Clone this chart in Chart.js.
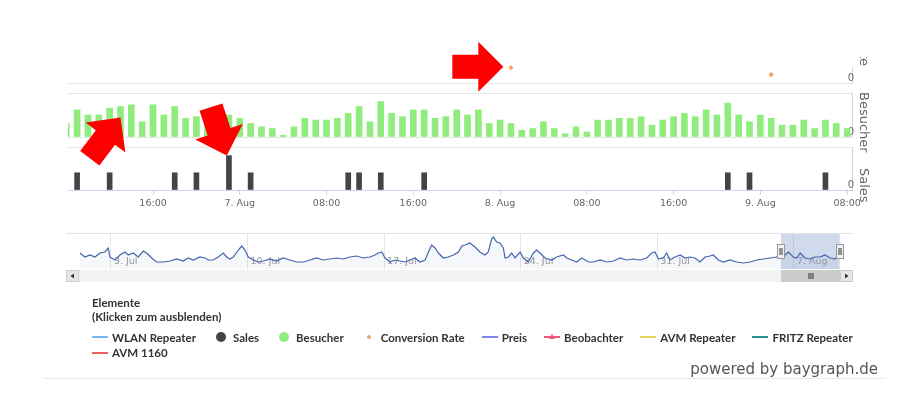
<!DOCTYPE html>
<html lang="de">
<head>
<meta charset="utf-8">
<title>Besucher / Sales</title>
<script src="https://cdn.jsdelivr.net/npm/chart.js@4.4.1/dist/chart.umd.min.js"></script>
<style>
  html, body { margin: 0; padding: 0; background: #fff; }
  #page { position: relative; width: 904px; height: 399px; overflow: hidden; }
  #page canvas { position: absolute; left: 0; top: 0; }
  #legend { position: absolute; left: 92px; top: 296px; width: 790px; font: bold 11.5px Lato, sans-serif; color: #333; }
  #legend .head { line-height: 14px; }
  #legendItems { margin-top: 5.5px; display: flex; flex-wrap: wrap; }
  .item { display: inline-flex; align-items: center; height: 15.5px; margin-right: 17px; white-space: nowrap; }
  .item svg { width: 16px; height: 12px; margin-right: 4px; }
  #powered { position: absolute; right: 26px; top: 360px; font: 15px "DejaVu Sans", sans-serif; line-height: 18px; color: #555; }
  #footLine { position: absolute; left: 43px; top: 378px; width: 843px; height: 1px; background: #e9e9e9; }
</style>
</head>
<body>
<div id="page">
  <canvas id="convChart" width="904" height="300"></canvas>
  <canvas id="visChart" width="904" height="300"></canvas>
  <canvas id="salesChart" width="904" height="300"></canvas>
  <canvas id="navChart" width="904" height="300"></canvas>
  <div id="legend">
    <div class="head">Elemente<br>(Klicken zum ausblenden)</div>
    <div id="legendItems"></div>
  </div>
  <div id="footLine"></div>
  <div id="powered">powered by baygraph.de</div>
</div>
<script>
// --- 1. Data (hours counted from 06.08. 00:00) ---
const visitorHours = [8, 9, 10, 11, 12, 13, 14, 15, 16, 17,
  18, 19, 20, 21, 22, 23, 24, 25, 26, 27,
  28, 29, 30, 31, 32, 33, 34, 35, 36, 37,
  38, 39, 40, 41, 42, 43, 44, 45, 46, 47,
  48, 49, 50, 51, 52, 53, 54, 55, 56, 57,
  58, 59, 60, 61, 62, 63, 64, 65, 66, 67,
  68, 69, 70, 71, 72, 73, 74, 75, 76, 77,
  78, 79, 80];
const visitors = [8, 16, 13, 13, 17, 18, 19, 9, 19, 13,
  18, 11, 12, 11, 12, 13, 11, 8, 6, 5,
  1, 6, 11, 10, 10, 11, 14, 18, 9, 21,
  14, 12, 16, 16, 11, 12, 16, 13, 16, 8,
  10, 8, 4, 5, 9, 5, 2, 6, 3, 10,
  10, 11, 11, 12, 7, 10, 12, 14, 12, 16,
  13, 20, 13, 9, 13, 11, 7, 7, 10, 5,
  10, 8, 5];

const saleHours = [9, 12, 18, 20, 23, 25, 34, 35, 37, 41, 69, 71, 78];
const sales = [1, 1, 1, 1, 2, 1, 1, 1, 1, 1, 1, 1, 1];

const convHours = [49, 73];
const convRates = [9.6, 5.2];

const xTickHours = [16, 24, 32, 40, 48, 56, 64, 72, 80];
const xTickLabels = ['16:00', '7. Aug', '08:00', '16:00', '8. Aug', '08:00', '16:00', '9. Aug', '08:00'];

// navigator: days counted from 01.07. 00:00
const navDays = [0.41, 0.67, 0.92, 1.18, 1.44, 1.69, 1.86, 1.95, 2.21, 2.46, 2.72, 2.89, 3.14, 3.40, 3.66, 3.83,
  4.09, 4.34, 4.68, 5.02, 5.37, 5.71, 5.96, 6.22, 6.56, 6.82, 6.99, 7.24, 7.50, 7.76, 7.93, 8.10, 8.27,
  8.53, 8.70, 8.87, 9.04, 9.30, 9.55, 9.81, 10.15, 10.49, 10.83, 11.17, 11.52, 11.86, 12.20, 12.54, 12.88,
  13.22, 13.57, 13.91, 14.25, 14.59, 14.93, 15.28, 15.53, 15.70, 15.88, 16.05, 16.30, 16.56, 16.81, 17.07,
  17.33, 17.58, 17.84, 18.10, 18.27, 18.44, 18.61, 18.78, 19.04, 19.29, 19.55, 19.81, 19.98, 20.15, 20.40,
  20.66, 20.91, 21.17, 21.34, 21.51, 21.60, 21.77, 21.94, 22.11, 22.20, 22.37, 22.54, 22.71, 22.97, 23.14,
  23.39, 23.65, 23.82, 23.99, 24.25, 24.59, 24.84, 25.19, 25.36, 25.61, 25.87, 26.13, 26.47, 26.72, 27.07,
  27.41, 27.75, 28.09, 28.43, 28.77, 29.12, 29.46, 29.71, 29.88, 30.06, 30.31, 30.48, 30.65, 30.91, 31.17,
  31.42, 31.68, 31.93, 32.19, 32.45, 32.70, 32.87, 33.13, 33.39, 33.73, 34.07, 34.41, 34.75, 35.10, 35.44,
  35.78, 36.12, 36.29, 36.55, 36.72, 36.97, 37.14, 37.32, 37.57, 37.83, 38.08, 38.34, 38.60, 38.86, 39.11, 39.28];
const navValues = [16, 12, 14, 12, 16, 17, 21, 12, 9, 14, 17, 14, 16, 12, 18, 16,
  11, 7, 7, 8, 10, 8, 11, 9, 12, 11, 9, 9, 12, 16, 12, 10, 12,
  19, 23, 19, 12, 9, 7, 8, 10, 8, 11, 9, 7, 7, 9, 11, 9,
  10, 11, 10, 12, 13, 11, 12, 14, 16, 17, 11, 7, 9, 8, 7,
  9, 11, 7, 9, 17, 24, 21, 16, 11, 12, 14, 17, 23, 24, 26,
  22, 17, 14, 17, 30, 32, 27, 26, 21, 11, 12, 16, 11, 17, 11,
  7, 16, 19, 16, 11, 9, 12, 14, 11, 9, 7, 11, 7, 7, 9,
  7, 8, 11, 9, 10, 9, 11, 16, 17, 10, 11, 16, 9, 12, 14,
  11, 12, 11, 7, 12, 13, 14, 9, 7, 9, 7, 6, 7, 9, 10,
  11, 12, 16, 14, 17, 12, 11, 16, 11, 10, 12, 12, 14, 11, 10, 13];
const navTickDays = [2, 9, 16, 23, 30, 37];
const navTickLabels = ['3. Jul', '10. Jul', '17. Jul', '24. Jul', '31. Jul', '7. Aug'];

const legendNames = ['WLAN Repeater', 'Sales', 'Besucher', 'Conversion Rate', 'Preis', 'Beobachter', 'AVM Repeater', 'FRITZ Repeater', 'AVM 1160'];
const legendColors = ['#7cb5ec', '#434348', '#90ed7d', '#f7a35c', '#8085e9', '#f15c80', '#e4d354', '#2b908f', '#f45b5b'];
const legendSymbols = ['line', 'circle', 'circle', 'diamond', 'line', 'lineMarker', 'line', 'line', 'line'];

// --- 2. Shared settings ---
const hourMin = 8.16, hourMax = 80.45;      // visible window of the main chart
const dayOffset = 36;                       // 06.08. counted from 01.07.
const visMax = 26, salesMax = 2.5, convMax = 10;

Chart.defaults.font.family = '"DejaVu Sans", sans-serif';
Chart.defaults.font.size = 9.5;
Chart.defaults.color = '#666';
Chart.defaults.animation = false;
Chart.defaults.responsive = false;
Chart.defaults.events = [];
Chart.defaults.plugins.legend.display = false;
Chart.defaults.plugins.tooltip.enabled = false;

function hourAxis(show) {
  return {
    type: 'linear', min: hourMin, max: hourMax, offset: false, display: show,
    afterBuildTicks: s => { s.ticks = xTickHours.map(v => ({ value: v })); },
    afterFit: s => { if (show) s.height = 25; },
    grid: { drawOnChartArea: false, drawTicks: true, tickLength: 5, tickColor: '#ccd6eb', offset: false },
    border: { display: true, color: '#ccd6eb' },
    ticks: { autoSkip: false, maxRotation: 0, padding: 3, callback: (v, i) => xTickLabels[i] }
  };
}

function paneAxis(max, tickValues, zeroColor) {
  return {
    type: 'linear', position: 'right', min: 0, max: max,
    afterBuildTicks: s => { s.ticks = tickValues.map(v => ({ value: v })); },
    afterFit: s => { s.width = 52; },
    grid: { drawTicks: false, color: c => (c.tick && c.tick.value === 0 ? zeroColor : '#e6e6e6') },
    border: { display: true, color: '#ccd6eb' },
    ticks: { mirror: true, padding: 2, labelOffset: -5, font: { size: 10 }, callback: v => (v === 0 ? '0' : '') }
  };
}

// --- 3. Pane titles + red arrows (drawn on top) ---
const axisTitles = [
  { text: 'Conversion Rate', at: 66, align: 'right' },
  { text: 'Besucher', at: 92, align: 'left' },
  { text: 'Sales', at: 168, align: 'left' }
];
const arrowTips = [
  { pane: 'vis', hour: 13.0, value: 11.5, angle: -53 },
  { pane: 'sales', hour: 22.8, value: 2.0, angle: 72 },
  { pane: 'conv', hour: 48.3, value: 10.2, angle: 0 }
];

let convChart, visChart;

const overlayPlugin = {
  id: 'overlay',
  afterDraw(chart) {
    const ctx = chart.ctx;
    // rotated axis titles
    ctx.save();
    ctx.beginPath();
    ctx.rect(0, 57, 904, 243);
    ctx.clip();
    ctx.font = '13px "DejaVu Sans", sans-serif';
    ctx.fillStyle = '#666';
    ctx.textBaseline = 'middle';
    axisTitles.forEach(t => {
      ctx.save();
      ctx.translate(863, t.at);
      ctx.rotate(Math.PI / 2);
      ctx.textAlign = t.align;
      ctx.fillText(t.text, 0, 0);
      ctx.restore();
    });
    ctx.restore();

    // arrows
    const panes = { conv: convChart, vis: visChart, sales: chart };
    ctx.save();
    ctx.fillStyle = '#ff0000';
    arrowTips.forEach(a => {
      const c = panes[a.pane];
      const x = c.scales.x.getPixelForValue(a.hour);
      const y = c.scales.y.getPixelForValue(a.value);
      ctx.save();
      ctx.translate(x, y);
      ctx.rotate(a.angle * Math.PI / 180);
      ctx.beginPath();
      ctx.moveTo(0, 0);
      ctx.lineTo(-25, -25);
      ctx.lineTo(-25, -12);
      ctx.lineTo(-51, -12);
      ctx.lineTo(-51, 12);
      ctx.lineTo(-25, 12);
      ctx.lineTo(-25, 25);
      ctx.closePath();
      ctx.fill();
      ctx.restore();
    });
    ctx.restore();
  }
};

// --- 4. Panes ---
convChart = new Chart(document.getElementById('convChart'), {
  type: 'scatter',
  data: {
    datasets: [{
      data: convHours.map((h, i) => ({ x: h, y: convRates[i] })),
      pointStyle: 'rectRot', pointRadius: 2.6, borderWidth: 0,
      backgroundColor: '#f7a35c', clip: false
    }]
  },
  options: {
    layout: { padding: { left: 68, right: 0, top: 67, bottom: 217 } },
    scales: { x: hourAxis(false), y: paneAxis(convMax, [0], '#e6e6e6') }
  }
});

visChart = new Chart(document.getElementById('visChart'), {
  type: 'bar',
  data: {
    datasets: [{
      data: visitorHours.map((h, i) => ({ x: h, y: visitors[i] })),
      backgroundColor: '#90ed7d', borderWidth: 0, barThickness: 6
    }]
  },
  options: {
    layout: { padding: { left: 68, right: 0, top: 93, bottom: 163 } },
    scales: { x: hourAxis(false), y: paneAxis(visMax, [0, visMax], '#e6e6e6') }
  }
});

new Chart(document.getElementById('salesChart'), {
  type: 'bar',
  data: {
    datasets: [{
      data: saleHours.map((h, i) => ({ x: h, y: sales[i] })),
      backgroundColor: '#434348', borderWidth: 0, barThickness: 5
    }]
  },
  options: {
    layout: { padding: { left: 68, right: 0, top: 147, bottom: 85 } },
    scales: { x: hourAxis(true), y: paneAxis(salesMax, [0, salesMax], '#ccd6eb') }
  },
  plugins: [overlayPlugin]
});

// --- 5. Navigator with selection and scrollbar ---
const navigatorPlugin = {
  id: 'navigatorParts',
  beforeDatasetsDraw(chart) {
    const { ctx, chartArea: a, scales: { x } } = chart;
    const xs = x.getPixelForValue(dayOffset + hourMin / 24);
    const xe = x.getPixelForValue(dayOffset + hourMax / 24);
    ctx.save();
    ctx.fillStyle = 'rgba(102,133,194,0.3)';
    ctx.fillRect(xs, a.top, xe - xs, a.bottom - a.top);
    ctx.strokeStyle = '#e3e3e3';
    ctx.lineWidth = 1;
    ctx.beginPath();
    ctx.moveTo(a.left - 2, a.top + 0.5);
    ctx.lineTo(a.right, a.top + 0.5);
    ctx.stroke();
    ctx.font = '9.5px "DejaVu Sans", sans-serif';
    ctx.fillStyle = '#999';
    ctx.textBaseline = 'middle';
    navTickDays.forEach((d, i) => ctx.fillText(navTickLabels[i], x.getPixelForValue(d) + 3, 262));
    ctx.restore();
  },
  afterDraw(chart) {
    const { ctx, chartArea: a, scales: { x } } = chart;
    const xs = Math.round(x.getPixelForValue(dayOffset + hourMin / 24));
    const xe = Math.round(x.getPixelForValue(dayOffset + hourMax / 24));
    ctx.save();
    // handles
    [xs, xe].forEach(hx => {
      ctx.fillStyle = '#f2f2f2';
      ctx.strokeStyle = '#999';
      ctx.fillRect(hx - 3.5, 244.5, 7, 14);
      ctx.strokeRect(hx - 3.5, 244.5, 7, 14);
      ctx.strokeStyle = '#333';
      ctx.beginPath();
      ctx.moveTo(hx - 1, 248); ctx.lineTo(hx - 1, 255);
      ctx.moveTo(hx + 1, 248); ctx.lineTo(hx + 1, 255);
      ctx.stroke();
    });
    // scrollbar
    const top = 270, h = 12, left = a.left - 2, right = a.right;
    ctx.fillStyle = '#f2f2f2';
    ctx.fillRect(left, top, right - left, h);
    ctx.fillStyle = '#cccccc';
    ctx.fillRect(xs, top, xe - xs, h);
    ctx.strokeStyle = '#333';
    ctx.beginPath();
    [-2, 0, 2].forEach(o => { ctx.moveTo((xs + xe) / 2 + o + 0.5, top + 3); ctx.lineTo((xs + xe) / 2 + o + 0.5, top + 9); });
    ctx.stroke();
    [[left, -1], [right - 13, 1]].forEach(([bx, dir]) => {
      ctx.fillStyle = '#e6e6e6';
      ctx.strokeStyle = '#cccccc';
      ctx.fillRect(bx + 0.5, top + 0.5, 12, h - 1);
      ctx.strokeRect(bx + 0.5, top + 0.5, 12, h - 1);
      ctx.fillStyle = '#333';
      ctx.beginPath();
      const cx = bx + 6.5, cy = top + 6;
      ctx.moveTo(cx + 2 * dir, cy);
      ctx.lineTo(cx - 1.5 * dir, cy - 2.5);
      ctx.lineTo(cx - 1.5 * dir, cy + 2.5);
      ctx.closePath();
      ctx.fill();
    });
    ctx.restore();
  }
};

new Chart(document.getElementById('navChart'), {
  type: 'line',
  data: {
    datasets: [{
      data: navDays.map((d, i) => ({ x: d, y: navValues[i] })),
      borderColor: '#4265ab', borderWidth: 1.2, pointRadius: 0, tension: 0,
      fill: 'origin', backgroundColor: 'rgba(51,92,173,0.05)'
    }]
  },
  options: {
    layout: { padding: { left: 68, right: 51, top: 233, bottom: 31 } },
    scales: {
      x: {
        type: 'linear', min: -0.2, max: 40.03,
        afterBuildTicks: s => { s.ticks = navTickDays.map(v => ({ value: v })); },
        afterFit: s => { s.height = 0; },
        grid: { color: '#e6e6e6', drawTicks: false },
        border: { display: false },
        ticks: { display: false }
      },
      y: { min: 0, max: 36, display: false }
    }
  },
  plugins: [navigatorPlugin]
});

// --- 6. Legend ---
const symbolSvg = {
  line: c => `<line x1="0" y1="6" x2="16" y2="6" stroke="${c}" stroke-width="2"/>`,
  circle: c => `<circle cx="8" cy="6" r="5" fill="${c}"/>`,
  diamond: c => `<path d="M8 3.5 L10.5 6 L8 8.5 L5.5 6 Z" fill="${c}"/>`,
  lineMarker: c => `<line x1="0" y1="6" x2="16" y2="6" stroke="${c}" stroke-width="2"/><path d="M8 2.5 L11 8 L5 8 Z" fill="${c}"/>`
};
document.getElementById('legendItems').innerHTML = legendNames.map((name, i) =>
  `<span class="item"><svg viewBox="0 0 16 12">${symbolSvg[legendSymbols[i]](legendColors[i])}</svg>${name}</span>`
).join('');
</script>
</body>
</html>
